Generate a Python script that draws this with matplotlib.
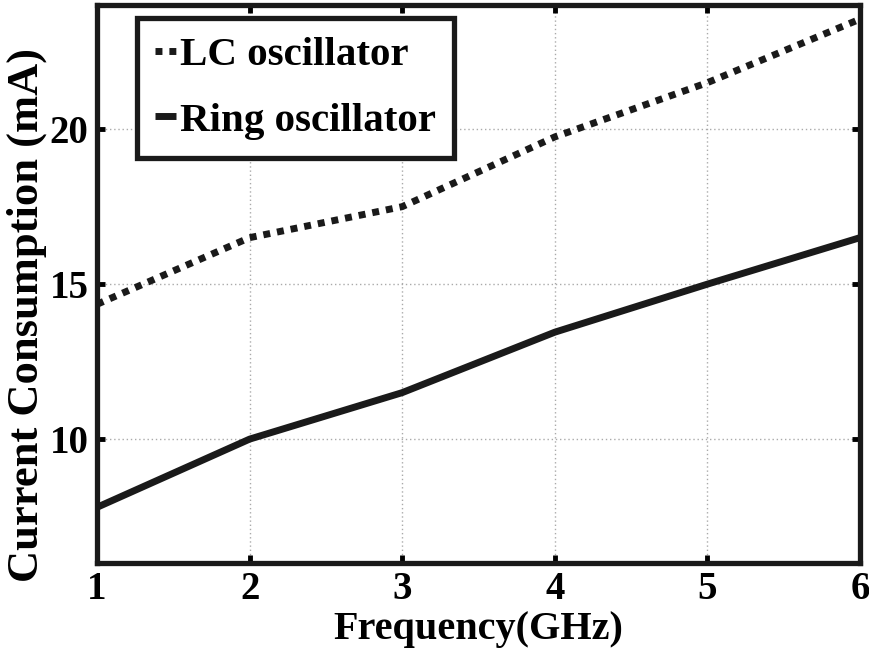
import matplotlib.pyplot as plt

# Data
freq_ghz = [1, 2, 3, 4, 5, 6]
lc_current = [14.35, 16.5, 17.5, 19.75, 21.5, 23.55]
ring_current = [7.8, 10.0, 11.5, 13.45, 15.0, 16.5]
x_ticks = [1, 2, 3, 4, 5, 6]
y_ticks = [10, 15, 20]


def configure_plot():
    plt.rcParams.update({
        'font.family': 'Liberation Serif',
        'font.weight': 'bold',
        'font.size': 28,
    })


def main():
    configure_plot()
    fig = plt.figure(figsize=(8.7, 6.48), dpi=100)
    ax = fig.add_axes([0.1115, 0.131, 0.877, 0.861])

    ax.plot(freq_ghz, lc_current, color='#1a1a1a', linewidth=5,
            dashes=(1.0, 1.0), dash_capstyle='butt', label='LC oscillator')
    ax.plot(freq_ghz, ring_current, color='#1a1a1a', linewidth=5,
            solid_capstyle='butt', label='Ring oscillator')

    ax.set_xlim(1, 6)
    ax.set_ylim(6, 24)
    ax.set_xticks(x_ticks)
    ax.set_yticks(y_ticks)
    ax.grid(True, linestyle=(0, (1, 2)), color='#aaaaaa', linewidth=1)
    ax.tick_params(direction='in', length=6, width=3.5, top=True, right=True,
                   pad=6, labelsize=28)
    for spine in ax.spines.values():
        spine.set_linewidth(3.8)
        spine.set_color('#1a1a1a')

    ax.set_xlabel('Frequency(GHz)', fontsize=29, fontweight='bold')
    ax.xaxis.set_label_coords(0.5, -0.086)
    ax.set_ylabel('Current Consumption (mA)', fontsize=32, fontweight='bold')
    ax.yaxis.set_label_coords(-0.066, 0.445)

    leg = ax.legend(loc='upper left', bbox_to_anchor=(0.052, 0.977), fancybox=False,
                    framealpha=1, edgecolor='#1a1a1a', handlelength=0.5,
                    handletextpad=0.1, borderpad=0.45, labelspacing=0.68,
                    borderaxespad=0, prop={'family': 'Liberation Serif', 'weight': 'bold', 'size': 29.5})
    leg.get_frame().set_linewidth(3.8)

    fig.savefig('out.png', dpi=100)


if __name__ == "__main__":
    main()
